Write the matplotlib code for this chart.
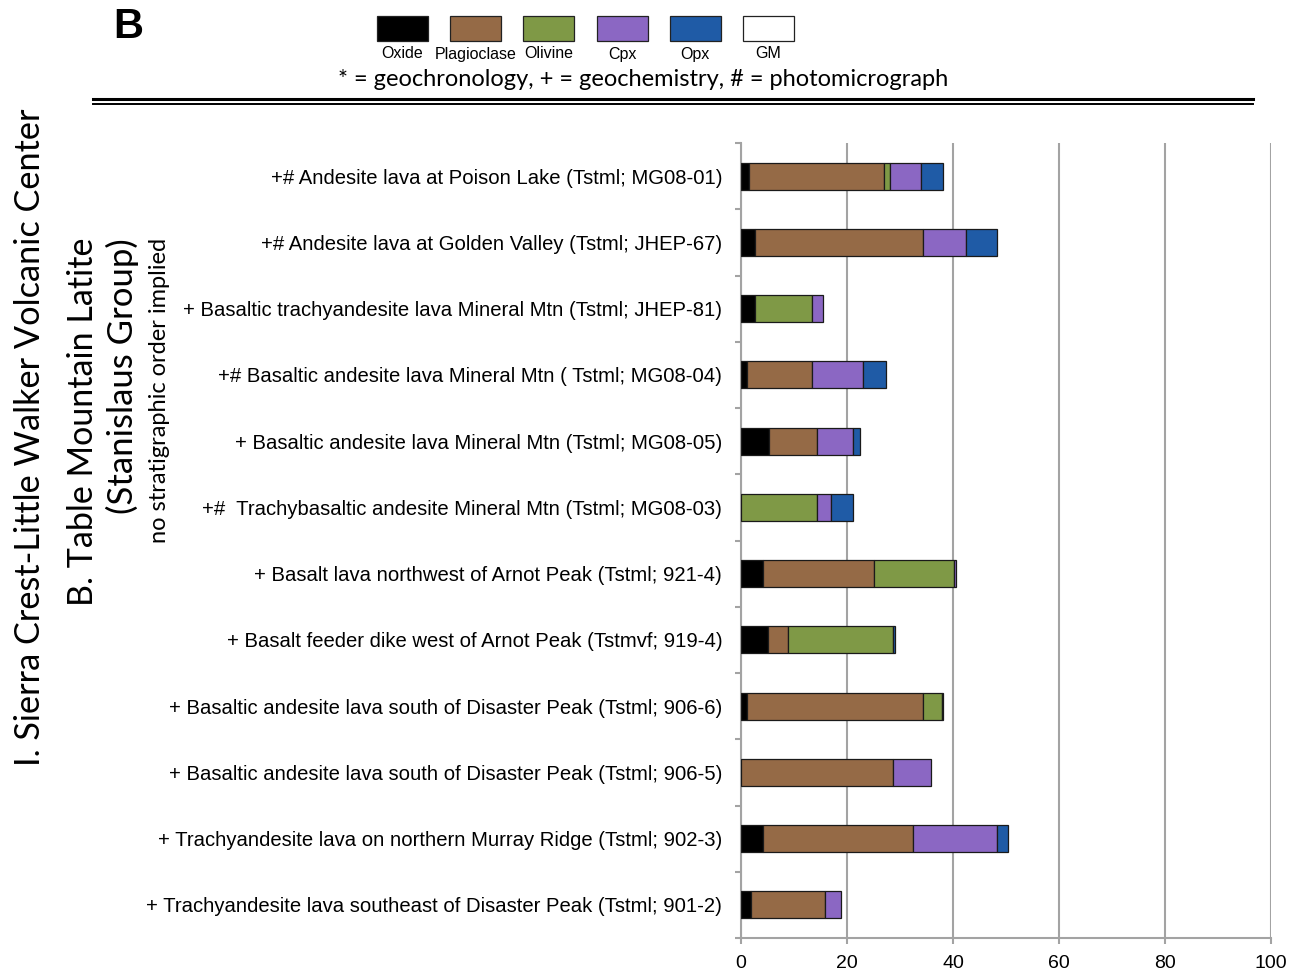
import matplotlib
matplotlib.use("Agg")
import matplotlib.pyplot as plt
from matplotlib.patches import Rectangle
from matplotlib.lines import Line2D
import numpy as np

# Samples, top to bottom
samples = [
    "+# Andesite lava at Poison Lake (Tstml; MG08-01)",
    "+# Andesite lava at Golden Valley (Tstml; JHEP-67)",
    "+ Basaltic trachyandesite lava Mineral Mtn (Tstml; JHEP-81)",
    "+# Basaltic andesite lava Mineral Mtn ( Tstml; MG08-04)",
    "+ Basaltic andesite lava Mineral Mtn (Tstml; MG08-05)",
    "+#  Trachybasaltic andesite Mineral Mtn (Tstml; MG08-03)",
    "+ Basalt lava northwest of Arnot Peak (Tstml; 921-4)",
    "+ Basalt feeder dike west of Arnot Peak (Tstmvf; 919-4)",
    "+ Basaltic andesite lava south of Disaster Peak (Tstml; 906-6)",
    "+ Basaltic andesite lava south of Disaster Peak (Tstml; 906-5)",
    "+ Trachyandesite lava on northern Murray Ridge (Tstml; 902-3)",
    "+ Trachyandesite lava southeast of Disaster Peak (Tstml; 901-2)",
]

# Phenocryst modes (vol. %)
oxide       = [1.5, 2.6, 2.6, 1.1, 5.3, 0.0, 4.2, 5.0, 1.1, 0.0, 4.2, 1.9]
plagioclase = [25.5, 31.7, 0.0, 12.3, 9.0, 0.0, 20.9, 3.8, 33.2, 28.6, 28.2, 13.9]
olivine     = [1.2, 0.0, 10.8, 0.0, 0.0, 14.3, 15.1, 19.8, 3.6, 0.0, 0.0, 0.0]
cpx         = [5.8, 8.2, 2.1, 9.7, 6.9, 2.6, 0.4, 0.0, 0.3, 7.3, 15.9, 3.1]
opx         = [4.2, 5.8, 0.0, 4.3, 1.2, 4.3, 0.0, 0.4, 0.0, 0.0, 2.0, 0.0]

phases = ["Oxide", "Plagioclase", "Olivine", "Cpx", "Opx", "GM"]
phase_colors = ["#000000", "#956A46", "#7F9946", "#8B67C3", "#1F5BA6", "#FFFFFF"]
x_ticks = [0, 20, 40, 60, 80, 100]

W, H = 1292, 973
fig = plt.figure(figsize=(W / 100, H / 100), dpi=100)
fig.patch.set_facecolor("white")

ax = fig.add_axes([741 / W, 1 - 938 / H, (1271 - 741) / W, (938 - 143) / H])

grid_gray = "#A3A3A3"
y = np.arange(len(samples))
left = np.zeros(len(samples))
for vals, col in zip([oxide, plagioclase, olivine, cpx, opx], phase_colors[:5]):
    vals = np.asarray(vals, dtype=float)
    lw = np.where(vals > 0, 0.9, 0.0)
    ax.barh(y, vals, left=left, height=0.41, color=col,
            edgecolor="#1a1a1a", linewidth=lw, zorder=3)
    left += vals

ax.set_xlim(0, 100)
ax.set_ylim(len(samples) - 0.5, -0.5)
ax.set_xticks(x_ticks)
ax.set_xticklabels([str(v) for v in x_ticks], fontfamily="Liberation Sans", fontsize=14)
ax.set_yticks(y)
ax.set_yticklabels(samples, fontfamily="Liberation Sans", fontsize=14.6)
ax.set_yticks(np.arange(-0.5, len(samples), 1.0), minor=True)
ax.tick_params(axis="y", which="major", length=0, pad=13.5)
ax.tick_params(axis="y", which="minor", length=4, width=1.5, color=grid_gray, direction="out")
ax.tick_params(axis="x", which="major", length=4, width=1.5, color=grid_gray, pad=8)
ax.grid(axis="x", color=grid_gray, linewidth=1.5, zorder=0)
ax.set_axisbelow(True)
for s in ["top", "right"]:
    ax.spines[s].set_visible(False)
for s in ["left", "bottom"]:
    ax.spines[s].set_color(grid_gray)
    ax.spines[s].set_linewidth(1.5)

# Panel letter
fig.text(128 / W, 1 - 27 / H, "B", fontfamily="Liberation Sans", fontweight="bold",
         fontsize=30, ha="center", va="center")

# Legend swatches
box_w, box_h = 51, 25
for i, (name, col) in enumerate(zip(phases, phase_colors)):
    x0 = 377 + 73.2 * i
    fig.add_artist(Rectangle((x0 / W, 1 - 41 / H), box_w / W, box_h / H,
                             transform=fig.transFigure, facecolor=col,
                             edgecolor="#222222", linewidth=0.9))
    fig.text((x0 + box_w / 2) / W, 1 - 54 / H, name, fontfamily="Liberation Sans",
             fontsize=11.5, ha="center", va="center")

fig.text(643 / W, 1 - 80 / H,
         "* = geochronology, + = geochemistry, # = photomicrograph",
         fontfamily="Lato", fontsize=17, ha="center", va="center")

# Double rule under the header
fig.add_artist(Line2D([93 / W, 1253 / W], [1 - 98.5 / H] * 2, transform=fig.transFigure,
                      color="black", linewidth=2.2))
fig.add_artist(Line2D([93 / W, 1253 / W], [1 - 104 / H] * 2, transform=fig.transFigure,
                      color="black", linewidth=1.4))

# Vertical group titles
fig.text(30 / W, 1 - 108 / H, "I. Sierra Crest-Little Walker Volcanic Center",
         fontfamily="Lato", fontsize=24.7, rotation=90, ha="center", va="top")
fig.text(83 / W, 1 - 238 / H, "B. Table Mountain Latite",
         fontfamily="Lato", fontsize=24.5, rotation=90, ha="center", va="top")
fig.text(122 / W, 1 - 238 / H, "(Stanislaus Group)",
         fontfamily="Lato", fontsize=25, rotation=90, ha="center", va="top")
fig.text(160 / W, 1 - 238 / H, "no stratigraphic order implied",
         fontfamily="Lato", fontsize=17, rotation=90, ha="center", va="top")

fig.savefig("out.png", dpi=100)
